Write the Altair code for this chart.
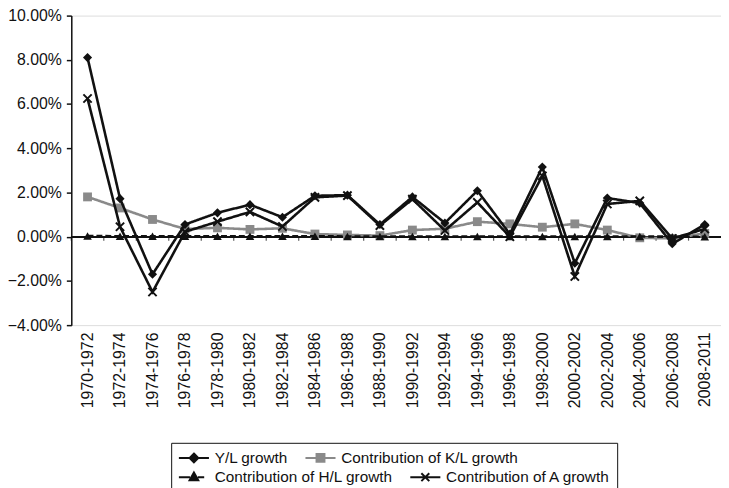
import altair as alt
import pandas as pd

periods = ["1970-1972", "1972-1974", "1974-1976", "1976-1978", "1978-1980",
           "1980-1982", "1982-1984", "1984-1986", "1986-1988", "1988-1990",
           "1990-1992", "1992-1994", "1994-1996", "1996-1998", "1998-2000",
           "2000-2002", "2002-2004", "2004-2006", "2006-2008", "2008-2011"]

# values in percent
yl_growth = [8.10, 1.72, -1.70, 0.55, 1.08, 1.45, 0.88, 1.85, 1.88, 0.55,
             1.80, 0.62, 2.08, 0.12, 3.15, -1.20, 1.75, 1.52, -0.32, 0.55]
kl_contrib = [1.80, 1.30, 0.78, 0.35, 0.40, 0.33, 0.38, 0.12, 0.08, 0.05,
              0.30, 0.36, 0.68, 0.58, 0.43, 0.58, 0.30, -0.05, -0.08, 0.15]
hl_contrib = [0.03, 0.02, 0.02, 0.02, 0.02, 0.02, 0.02, 0.02, 0.01, 0.01,
              0.01, 0.01, 0.01, 0.01, 0.01, 0.01, 0.01, 0.01, 0.00, 0.00]
a_contrib = [6.25, 0.45, -2.50, 0.22, 0.68, 1.12, 0.46, 1.78, 1.86, 0.50,
             1.70, 0.28, 1.55, 0.00, 2.75, -1.80, 1.48, 1.62, -0.08, 0.35]

series_names = ["Y/L growth", "Contribution of K/L growth",
                "Contribution of H/L growth", "Contribution of A growth"]
y_ticks = [-0.04, -0.02, 0.0, 0.02, 0.04, 0.06, 0.08, 0.10]

rows = []
for name, vals in zip(series_names, [yl_growth, kl_contrib, hl_contrib, a_contrib]):
    for p, v in zip(periods, vals):
        rows.append({"period": p, "series": name, "value": v / 100.0})
df = pd.DataFrame(rows)

BLACK = "#111111"
GRAY = "#8a8a8a"
colors = [BLACK, GRAY, BLACK, BLACK]
FONT = "Liberation Sans"

x_enc = alt.X("period:N", sort=periods,
              scale=alt.Scale(type="point", padding=0.5),
              axis=alt.Axis(title=None, labelAngle=270, ticks=False, domain=False,
                            labelPadding=7, labelFontSize=16, labelColor=BLACK,
                            labelFont=FONT))
y_enc = alt.Y("value:Q",
              scale=alt.Scale(domain=[-0.04, 0.10], nice=False, zero=False),
              axis=alt.Axis(title=None, values=y_ticks, format=".2%", grid=False,
                            domainColor=BLACK, domainWidth=1.5,
                            tickColor=BLACK, tickWidth=1.5, tickSize=5,
                            labelPadding=5, labelFontSize=16, labelColor=BLACK,
                            labelFont=FONT))

# legend symbols: a short line with the series marker on it
legend_paths = [
    "M-1.9,0H1.9M0,-0.55L0.55,0L0,0.55L-0.55,0Z",
    "M-1.9,0H1.9M-0.5,-0.5H0.5V0.5H-0.5Z",
    "M-1.9,0H-0.5M0.5,0H1.3M0,-0.6L0.55,0.4L-0.55,0.4Z",
    "M-1.9,0H1.9M-0.5,-0.5L0.5,0.5M-0.5,0.5L0.5,-0.5",
]

LEG_X, LEG_Y = 101, 432
common = dict(orient="none", legendX=LEG_X, legendY=LEG_Y, direction="horizontal",
              padding=6, labelFontSize=15.5, labelFont=FONT, labelColor=BLACK,
              labelLimit=400, symbolSize=256, labelOffset=12, symbolOffset=8,
              symbolStrokeWidth=2, columnPadding=12)
# first row (no frame) and second row (frame drawn around both rows,
# its blank title reserves the space of the first row)
legend_row1 = alt.Legend(title=None, **common)
legend_row2 = alt.Legend(title=" ", titleFontSize=15.5, titleFont=FONT, titlePadding=4,
                         strokeColor=BLACK, **common)

zero_line = alt.Chart(df).mark_rule(color=BLACK, strokeWidth=1.5).encode(
    y=alt.datum(0))

boundary_ticks = alt.Chart(pd.DataFrame({"period": periods})).mark_tick(
    orient="vertical", color=BLACK, thickness=1.2, size=4, yOffset=2,
    xOffset=-16.4).encode(x=x_enc, y=alt.datum(0))


def series_layers(series, color, dash, shape, filled, size):
    base = alt.Chart(df).transform_filter(alt.datum.series == series)
    line = base.mark_line(color=color, strokeWidth=2.6, strokeDash=dash).encode(
        x=x_enc, y=y_enc)
    pts = base.mark_point(color=color, filled=filled, size=size, opacity=1,
                          shape=shape, strokeWidth=2).encode(x=x_enc, y=y_enc)
    return [line, pts]


layers = [zero_line, boundary_ticks]
layers += series_layers(series_names[1], GRAY, [1, 0], "square", True, 80)
layers += series_layers(series_names[2], BLACK, [6, 3], "triangle-up", True, 75)
layers += series_layers(series_names[3], BLACK, [1, 0], "M-1,-1L1,1M-1,1L1,-1", False, 70)
layers += series_layers(series_names[0], BLACK, [1, 0], "diamond", True, 85)


def legend_carrier(names, cols, paths, leg):
    return alt.Chart(df).transform_filter(
        alt.FieldOneOfPredicate(field="series", oneOf=names)
    ).mark_point(opacity=1, strokeWidth=2, xOffset=-5000).encode(
        x=x_enc, y=y_enc,
        fill=alt.Fill("series:N", scale=alt.Scale(domain=names, range=cols), legend=leg),
        stroke=alt.Stroke("series:N", scale=alt.Scale(domain=names, range=cols), legend=leg),
        shape=alt.Shape("series:N", scale=alt.Scale(domain=names, range=paths), legend=leg),
    )


# legend carriers (their marks are shifted out of view, only the legends show)
layers.append(legend_carrier(series_names[:2], colors[:2], legend_paths[:2], legend_row1))
layers.append(legend_carrier(series_names[2:], colors[2:], legend_paths[2:], legend_row2))

chart = alt.layer(*layers).resolve_scale(
    fill="independent", stroke="independent", shape="independent"
).properties(
    width=657, height=313,
    autosize=alt.AutoSizeParams(type="none"),
    padding={"left": 64, "top": 5, "right": 0, "bottom": 162},
).configure_view(stroke=None).configure(font=FONT)

chart.save("out.html", embed_options={"renderer": "svg", "actions": False})
